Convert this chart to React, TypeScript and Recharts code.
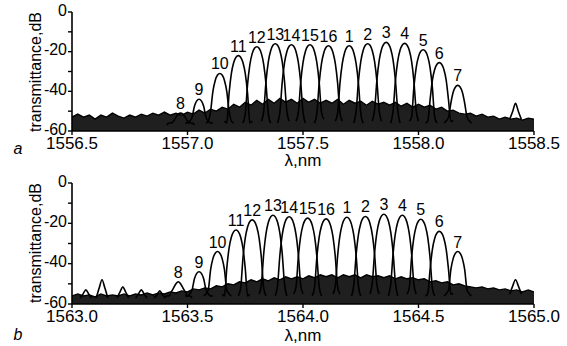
import React from 'react';
import { ComposedChart, Line, Area, XAxis, YAxis, Scatter } from 'recharts';

const FONT = '"Liberation Sans", Arial, Helvetica, sans-serif';

// Channel labels, left to right
const CHANNEL_LABELS = ['8', '9', '10', '11', '12', '13', '14', '15', '16', '1', '2', '3', '4', '5', '6', '7'];
// Wavelength offsets (nm) of the sampled points of each channel trace, relative to its centre
const TRACE_OFFSETS = [-0.06, -0.05, -0.04, -0.03, -0.02, -0.01, 0, 0.01, 0.02, 0.03, 0.04, 0.05, 0.06];
const BUMP_OFFSETS = [-0.025, -0.012, 0, 0.012, 0.025];

const Y_TICKS = [-60, -50, -40, -30, -20, -10, 0];

// ---------- panel a ----------
const A_DOMAIN = [1556.5, 1558.5];
const A_X_TICKS = [1556.5, 1557.0, 1557.5, 1558.0, 1558.5];
const A_CENTERS = [1556.97, 1557.05, 1557.14, 1557.22, 1557.30, 1557.38, 1557.45, 1557.53, 1557.61, 1557.70, 1557.78, 1557.86, 1557.94, 1558.02, 1558.09, 1558.17];
const A_TRACES = [
  [-57, -56, -56, -55, -53, -51.5, -51, -51.5, -53, -55, -56, -56, -57],
  [-56, -56, -55, -53, -47.5, -44.8, -44, -44.8, -47.5, -53, -55, -56, -56],
  [-56, -55, -50, -40, -34.5, -31.8, -31, -31.8, -34.5, -40, -50, -55, -56],
  [-55, -56, -41, -31, -25.5, -22.8, -22, -22.8, -25.5, -31, -41, -56, -55],
  [-56, -51.5, -36.5, -26.5, -21, -18.3, -17.5, -18.3, -21, -26.5, -36.5, -51.5, -56],
  [-55, -50, -35, -25, -19.5, -16.8, -16, -16.8, -19.5, -25, -35, -50, -55],
  [-56, -50.5, -35.5, -25.5, -20, -17.3, -16.5, -17.3, -20, -25.5, -35.5, -50.5, -56],
  [-55, -50.5, -35.5, -25.5, -20, -17.3, -16.5, -17.3, -20, -25.5, -35.5, -50.5, -54],
  [-56, -51, -36, -26, -20.5, -17.8, -17, -17.8, -20.5, -26, -36, -51, -55],
  [-55, -51, -36, -26, -20.5, -17.8, -17, -17.8, -20.5, -26, -36, -51, -56],
  [-56, -50, -35, -25, -19.5, -16.8, -16, -16.8, -19.5, -25, -35, -50, -55],
  [-55, -49.3, -34.3, -24.3, -18.8, -16.1, -15.3, -16.1, -18.8, -24.3, -34.3, -49.3, -56],
  [-56, -49.8, -34.8, -24.8, -19.3, -16.6, -15.8, -16.6, -19.3, -24.8, -34.8, -49.8, -55],
  [-55, -53, -38, -28, -22.5, -19.8, -19, -19.8, -22.5, -28, -38, -53, -56],
  [-56, -55, -44.5, -34.5, -29, -26.3, -25.5, -26.3, -29, -34.5, -44.5, -55, -55],
  [-56, -55, -53, -46, -40.5, -37.8, -37, -37.8, -40.5, -46, -53, -55, -56],
];
const A_BUMP_CENTERS = [1558.42];
const A_BUMP_TRACES = [[-54, -50, -46, -50, -54]];
const A_FLOOR_X = [
  1556.5, 1556.525, 1556.55, 1556.575, 1556.6, 1556.625, 1556.65, 1556.675, 1556.7, 1556.725,
  1556.75, 1556.775, 1556.8, 1556.825, 1556.85, 1556.875, 1556.9, 1556.925, 1556.95, 1556.975,
  1557.0, 1557.025, 1557.05, 1557.075, 1557.1, 1557.125, 1557.15, 1557.175, 1557.2, 1557.225,
  1557.25, 1557.275, 1557.3, 1557.325, 1557.35, 1557.375, 1557.4, 1557.425, 1557.45, 1557.475,
  1557.5, 1557.525, 1557.55, 1557.575, 1557.6, 1557.625, 1557.65, 1557.675, 1557.7, 1557.725,
  1557.75, 1557.775, 1557.8, 1557.825, 1557.85, 1557.875, 1557.9, 1557.925, 1557.95, 1557.975,
  1558.0, 1558.025, 1558.05, 1558.075, 1558.1, 1558.125, 1558.15, 1558.175, 1558.2, 1558.225,
  1558.25, 1558.275, 1558.3, 1558.325, 1558.35, 1558.375, 1558.4, 1558.425, 1558.45, 1558.475, 1558.5,
];
const A_FLOOR_TOP = [
  -53, -51.5, -53, -52, -54, -52, -53, -51, -52.5, -53.5,
  -52, -53, -51.5, -52.5, -51, -52, -50.5, -52, -51, -52,
  -50.5, -51.5, -49.5, -51, -49, -50, -48, -49, -46.5, -48,
  -45.5, -47, -44.5, -46.5, -44, -46, -43.5, -45.5, -44, -46,
  -43.5, -45.5, -44, -46, -44.5, -46, -44, -46.5, -44.5, -46,
  -45, -47, -45, -46.5, -45.5, -47, -45.5, -47.5, -46, -48,
  -46.5, -48, -47, -49, -48, -50, -49.5, -51, -51.5, -51,
  -52.5, -51.5, -53, -52.5, -54, -53, -54, -53.5, -54.5, -53.5, -54,
];

// ---------- panel b ----------
const B_DOMAIN = [1563.0, 1565.0];
const B_X_TICKS = [1563.0, 1563.5, 1564.0, 1564.5, 1565.0];
const B_CENTERS = [1563.46, 1563.55, 1563.63, 1563.71, 1563.78, 1563.87, 1563.94, 1564.02, 1564.10, 1564.19, 1564.27, 1564.35, 1564.43, 1564.51, 1564.59, 1564.67];
const B_TRACES = [
  [-57, -56, -56, -54, -52, -50, -49, -50, -52, -54, -56, -56, -57],
  [-56, -56, -55, -53, -47.5, -44.8, -44, -44.8, -47.5, -53, -55, -56, -56],
  [-56, -55, -53, -43, -37.5, -34.8, -34, -34.8, -37.5, -43, -53, -55, -56],
  [-55, -56, -42.3, -32.3, -26.8, -24.1, -23.3, -24.1, -26.8, -32.3, -42.3, -56, -55],
  [-56, -52.3, -37.3, -27.3, -21.8, -19.1, -18.3, -19.1, -21.8, -27.3, -37.3, -52.3, -56],
  [-55, -50, -35, -25, -19.5, -16.8, -16, -16.8, -19.5, -25, -35, -50, -56],
  [-56, -50.7, -35.7, -25.7, -20.2, -17.5, -16.7, -17.5, -20.2, -25.7, -35.7, -50.7, -55],
  [-55, -51.4, -36.4, -26.4, -20.9, -18.2, -17.4, -18.2, -20.9, -26.4, -36.4, -51.4, -56],
  [-56, -51.8, -36.8, -26.8, -21.3, -18.6, -17.8, -18.6, -21.3, -26.8, -36.8, -51.8, -55],
  [-55, -51, -36, -26, -20.5, -17.8, -17, -17.8, -20.5, -26, -36, -51, -56],
  [-56, -50.6, -35.6, -25.6, -20.1, -17.4, -16.6, -17.4, -20.1, -25.6, -35.6, -50.6, -55],
  [-55, -49.5, -34.5, -24.5, -19, -16.3, -15.5, -16.3, -19, -24.5, -34.5, -49.5, -56],
  [-56, -50, -35, -25, -19.5, -16.8, -16, -16.8, -19.5, -25, -35, -50, -55],
  [-55, -52, -37, -27, -21.5, -18.8, -18, -18.8, -21.5, -27, -37, -52, -56],
  [-56, -55, -43, -33, -27.5, -24.8, -24, -24.8, -27.5, -33, -43, -55, -55],
  [-56, -55, -53, -43, -37.5, -34.8, -34, -34.8, -37.5, -43, -53, -55, -56],
];
const B_BUMP_CENTERS = [1563.06, 1563.13, 1563.22, 1563.30, 1563.38, 1564.92];
const B_BUMP_TRACES = [
  [-57, -55, -53, -55, -57],
  [-57, -52, -48, -52, -57],
  [-57, -54, -51.5, -54, -57],
  [-57, -55, -53, -55, -57],
  [-57, -55.5, -53.5, -55.5, -57],
  [-55, -51, -48, -51, -55],
];
const B_FLOOR_X = [
  1563.0, 1563.025, 1563.05, 1563.075, 1563.1, 1563.125, 1563.15, 1563.175, 1563.2, 1563.225,
  1563.25, 1563.275, 1563.3, 1563.325, 1563.35, 1563.375, 1563.4, 1563.425, 1563.45, 1563.475,
  1563.5, 1563.525, 1563.55, 1563.575, 1563.6, 1563.625, 1563.65, 1563.675, 1563.7, 1563.725,
  1563.75, 1563.775, 1563.8, 1563.825, 1563.85, 1563.875, 1563.9, 1563.925, 1563.95, 1563.975,
  1564.0, 1564.025, 1564.05, 1564.075, 1564.1, 1564.125, 1564.15, 1564.175, 1564.2, 1564.225,
  1564.25, 1564.275, 1564.3, 1564.325, 1564.35, 1564.375, 1564.4, 1564.425, 1564.45, 1564.475,
  1564.5, 1564.525, 1564.55, 1564.575, 1564.6, 1564.625, 1564.65, 1564.675, 1564.7, 1564.725,
  1564.75, 1564.775, 1564.8, 1564.825, 1564.85, 1564.875, 1564.9, 1564.925, 1564.95, 1564.975, 1565.0,
];
const B_FLOOR_TOP = [
  -56, -55, -56, -55.5, -56.5, -55, -56, -55.5, -56, -55,
  -56, -55, -55.5, -54.5, -55.5, -54.5, -55, -54, -54.5, -53.5,
  -54, -52.5, -53, -52, -52.5, -51, -51.5, -50, -50.5, -49,
  -49.5, -48, -49, -47.5, -48.5, -47, -48, -46.5, -47.5, -46.5,
  -47.5, -46, -47, -45.5, -46.5, -45.5, -47, -45.5, -46.5, -45.5,
  -47, -45.5, -46.5, -46, -47, -46, -47.5, -46.5, -47.5, -47,
  -48, -47.5, -49, -48.5, -49.5, -49, -50.5, -50, -51, -51.5,
  -52, -51.5, -52.5, -52, -53, -52.5, -53.5, -53, -54, -53, -54,
];

type PanelProps = {
  domain: number[];
  xTicks: number[];
  centers: number[];
  traces: number[][];
  bumpCenters: number[];
  bumpTraces: number[][];
  floorX: number[];
  floorTop: number[];
  height: number;
  marginBottom: number;
};

const axisStroke = { stroke: '#000', strokeWidth: 1.6 };
const tickStroke = { stroke: '#000', strokeWidth: 1.4 };

function Panel(p: PanelProps) {
  const floorData = p.floorX.map((x, i) => ({ x, y: p.floorTop[i] }));
  const traces = p.traces.map((vals, ci) =>
    vals.map((y, k) => ({ x: p.centers[ci] + TRACE_OFFSETS[k], y }))
  );
  const bumps = p.bumpTraces.map((vals, bi) =>
    vals.map((y, k) => ({ x: p.bumpCenters[bi] + BUMP_OFFSETS[k], y }))
  );
  const labels = p.centers.map((x, i) => ({ x, y: Math.max(...p.traces[i]), name: CHANNEL_LABELS[i] }));
  return (
    <ComposedChart
      width={567}
      height={p.height}
      data={floorData}
      margin={{ top: 12, right: 33, bottom: p.marginBottom, left: 32 }}
    >
      <XAxis
        dataKey="x"
        type="number"
        domain={p.domain}
        ticks={p.xTicks}
        interval={0}
        allowDataOverflow
        tickFormatter={(v: number) => v.toFixed(1)}
        tickSize={4}
        tickMargin={2}
        height={30}
        axisLine={axisStroke}
        tickLine={tickStroke}
        tick={{ fill: '#000', fontSize: 17, fontFamily: FONT }}
      />
      <XAxis
        xAxisId="top"
        orientation="top"
        type="number"
        domain={p.domain}
        ticks={p.xTicks}
        interval={0}
        allowDataOverflow
        mirror
        height={0}
        tickSize={4}
        tickFormatter={() => ''}
        axisLine={axisStroke}
        tickLine={tickStroke}
      />
      <YAxis
        type="number"
        domain={[-60, 0]}
        ticks={Y_TICKS}
        interval={0}
        allowDataOverflow
        width={40}
        tickSize={4}
        tickMargin={1}
        tickFormatter={(v: number) => (v % 20 === 0 ? String(v) : '')}
        axisLine={axisStroke}
        tickLine={tickStroke}
        tick={{ fill: '#000', fontSize: 16, fontFamily: FONT, dy: -2 }}
      />
      <YAxis
        yAxisId="right"
        orientation="right"
        type="number"
        domain={[-60, 0]}
        ticks={Y_TICKS}
        interval={0}
        allowDataOverflow
        mirror
        width={0}
        tickSize={4}
        tickFormatter={() => ''}
        axisLine={axisStroke}
        tickLine={tickStroke}
      />
      <Area
        dataKey="y"
        type="linear"
        baseValue={-60}
        stroke="#000"
        strokeWidth={1.4}
        fill="#000"
        fillOpacity={0.88}
        isAnimationActive={false}
      />
      {bumps.map((d, i) => (
        <Line
          key={'b' + i}
          data={d}
          dataKey="y"
          type="monotone"
          dot={false}
          stroke="#000"
          strokeWidth={1.6}
          isAnimationActive={false}
        />
      ))}
      {traces.map((d, i) => (
        <Line
          key={'t' + i}
          data={d}
          dataKey="y"
          type="monotone"
          dot={false}
          stroke="#000"
          strokeWidth={1.6}
          isAnimationActive={false}
        />
      ))}
      <Scatter
        data={labels}
        dataKey="y"
        isAnimationActive={false}
        shape={(s: any) => (
          <text
            x={s.cx}
            y={s.cy - 4}
            textAnchor="middle"
            fontSize={16}
            fontFamily={FONT}
            fill="#000"
          >
            {s.payload.name}
          </text>
        )}
      />
    </ComposedChart>
  );
}

const textStyle: React.CSSProperties = {
  position: 'absolute',
  fontFamily: FONT,
  color: '#000',
  whiteSpace: 'nowrap',
  lineHeight: 1,
};

function YLabel({ cy }: { cy: number }) {
  return (
    <div
      style={{
        ...textStyle,
        left: 36,
        top: cy,
        fontSize: 16,
        transform: 'translate(-50%, -50%) rotate(-90deg)',
      }}
    >
      transmittance,dB
    </div>
  );
}

function Centered({ x, y, size, italic, children }: { x: number; y: number; size: number; italic?: boolean; children: React.ReactNode }) {
  return (
    <div
      style={{
        ...textStyle,
        left: x,
        top: y,
        fontSize: size,
        fontStyle: italic ? 'italic' : 'normal',
        transform: 'translate(-50%, -50%)',
      }}
    >
      {children}
    </div>
  );
}

export default function App() {
  return (
    <div style={{ position: 'absolute', left: 0, top: 0, width: 567, height: 346, background: '#fff', overflow: 'hidden' }}>
      <div style={{ position: 'absolute', left: 0, top: 0 }}>
        <Panel
          domain={A_DOMAIN}
          xTicks={A_X_TICKS}
          centers={A_CENTERS}
          traces={A_TRACES}
          bumpCenters={A_BUMP_CENTERS}
          bumpTraces={A_BUMP_TRACES}
          floorX={A_FLOOR_X}
          floorTop={A_FLOOR_TOP}
          height={175}
          marginBottom={14}
        />
      </div>
      <div style={{ position: 'absolute', left: 0, top: 171 }}>
        <Panel
          domain={B_DOMAIN}
          xTicks={B_X_TICKS}
          centers={B_CENTERS}
          traces={B_TRACES}
          bumpCenters={B_BUMP_CENTERS}
          bumpTraces={B_BUMP_TRACES}
          floorX={B_FLOOR_X}
          floorTop={B_FLOOR_TOP}
          height={175}
          marginBottom={12}
        />
      </div>
      <YLabel cy={72} />
      <YLabel cy={243} />
      <Centered x={303} y={160} size={17}>λ,nm</Centered>
      <Centered x={303} y={335} size={17}>λ,nm</Centered>
      <Centered x={18} y={149} size={16} italic>a</Centered>
      <Centered x={18} y={335} size={16} italic>b</Centered>
    </div>
  );
}
